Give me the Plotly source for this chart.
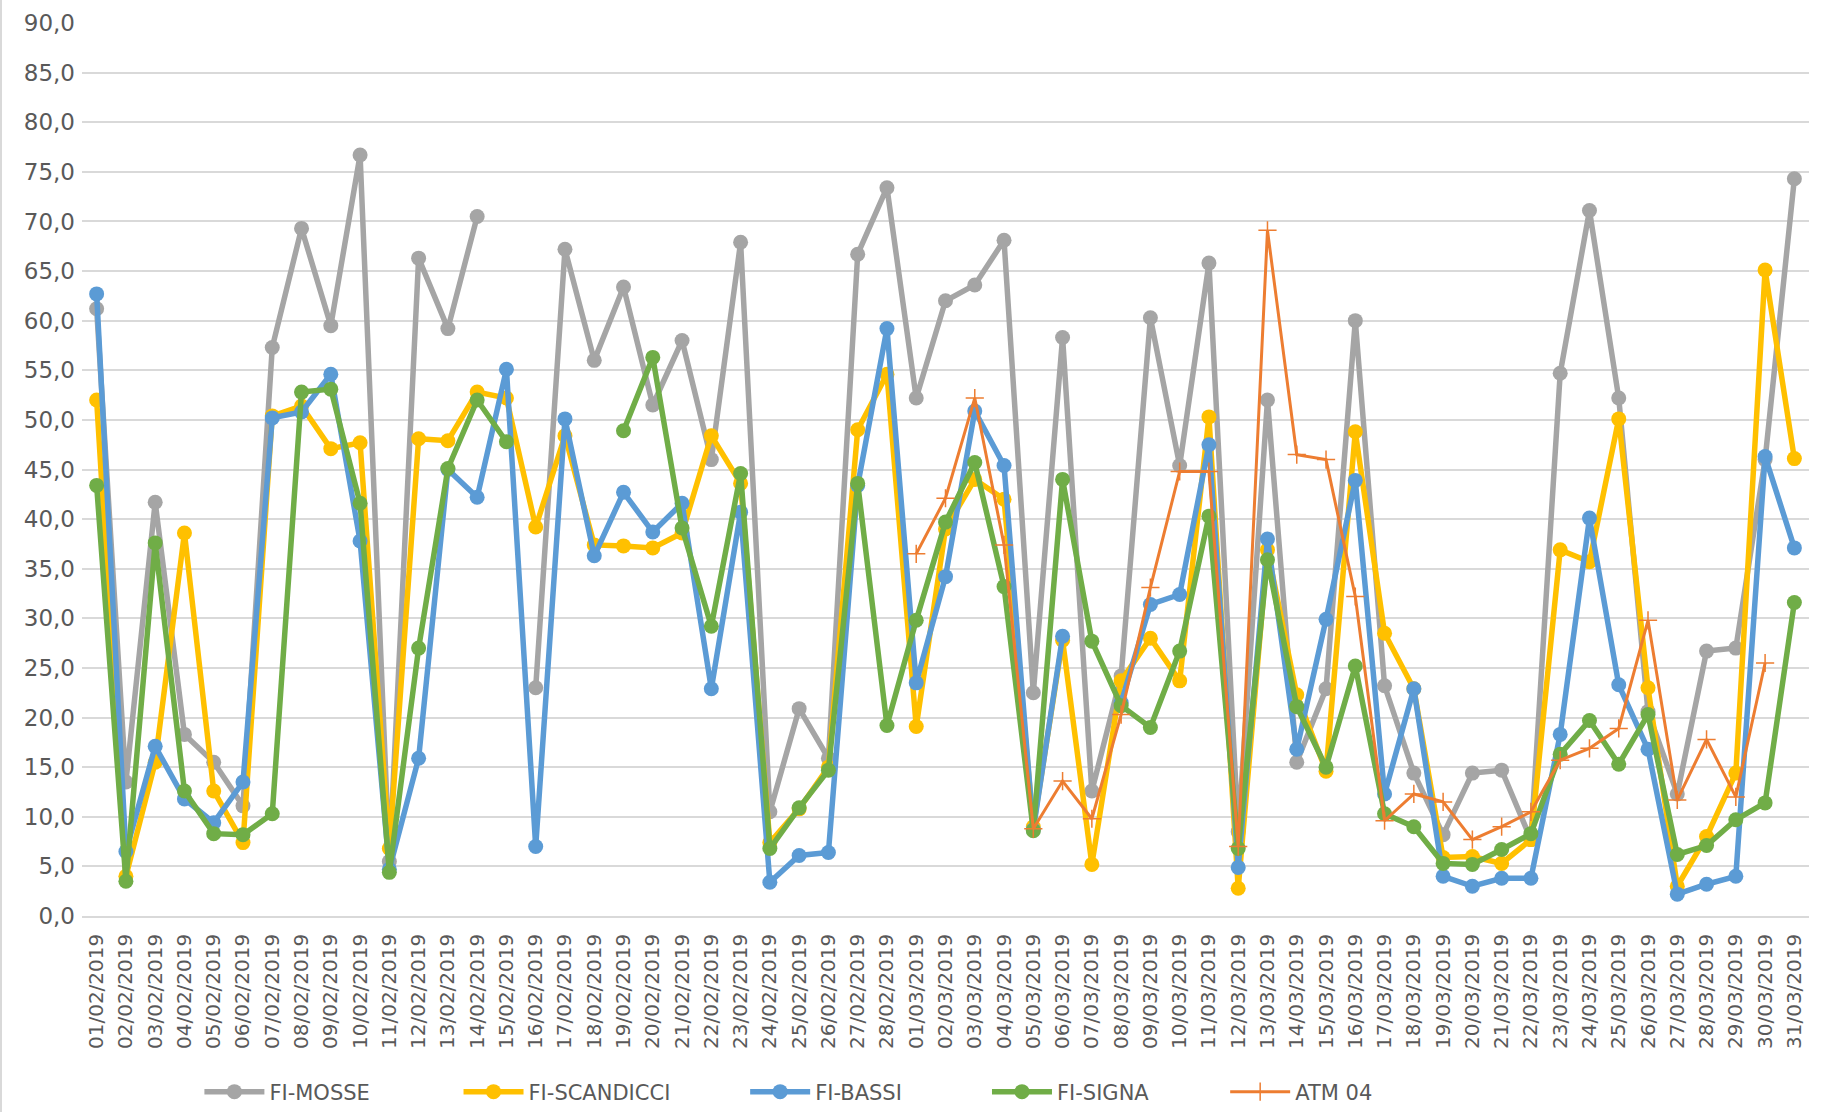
import plotly.graph_objects as go

# Daily values, February-March 2019
dates = [f"{d:02d}/02/2019" for d in range(1, 29)] + [f"{d:02d}/03/2019" for d in range(1, 32)]

fi_mosse = [61.2, 13.5, 41.7, 18.3, 15.5, 11.1, 57.3, 69.3, 59.5, 76.7,
            5.5, 66.3, 59.2, 70.5, None, 23.0, 67.2, 56.0, 63.4, 51.5,
            58.0, 46.0, 67.9, 10.5, 20.9, 15.9, 66.7, 73.4,
            52.2, 62.0, 63.6, 68.1, 22.5, 58.3, 12.6, 24.2, 60.3, 45.4,
            65.8, 8.5, 52.0, 15.5, 22.9, 60.0, 23.2, 14.4, 8.2, 14.4,
            14.7, 7.7, 54.7, 71.1, 52.2, 20.6, 12.3, 26.7, 27.0, 46.0, 74.3]

fi_scandicci = [52.0, 4.0, 15.5, 38.6, 12.6, 7.4, 50.4, 51.4, 47.1, 47.7,
                6.8, 48.1, 47.9, 52.8, 52.2, 39.2, 48.4, 37.4, 37.3, 37.1,
                38.6, 48.4, 43.6, 7.4, 10.8, 15.0, 49.0, 54.6,
                19.1, 39.0, 44.0, 42.0, 9.0, 27.8, 5.2, 23.7, 28.0, 23.7,
                50.3, 2.8, 36.9, 22.3, 14.6, 48.8, 28.5, 22.9, 5.9, 6.0,
                5.3, 7.7, 36.9, 35.7, 50.1, 23.0, 3.0, 8.0, 14.4, 65.1, 46.1]

fi_bassi = [62.7, 6.5, 17.1, 11.8, 9.4, 13.5, 50.2, 50.8, 54.6, 37.8,
            4.7, 15.9, 45.0, 42.2, 55.1, 7.0, 50.1, 36.3, 42.7, 38.7,
            41.6, 22.9, 40.7, 3.4, 6.1, 6.4, 43.4, 59.2,
            23.5, 34.2, 50.9, 45.4, 8.7, 28.2, None, 21.5, 31.4, 32.4,
            47.5, 4.9, 38.0, 16.8, 29.9, 43.9, 12.3, 22.9, 4.0, 3.0,
            3.8, 3.8, 18.3, 40.1, 23.3, 16.8, 2.2, 3.2, 4.0, 46.3, 37.1]

fi_signa = [43.4, 3.5, 37.6, 12.6, 8.3, 8.2, 10.3, 52.8, 53.1, 41.6,
            4.4, 27.0, 45.1, 52.0, 47.8, None, None, None, 48.9, 56.3,
            39.1, 29.2, 44.6, 6.8, 10.9, 14.7, 43.6, 19.2,
            29.8, 39.7, 45.7, 33.2, 8.6, 44.0, 27.7, 21.2, 19.0, 26.7,
            40.3, 6.8, 35.9, 21.1, 15.0, 25.2, 10.3, 9.0, 5.3, 5.2,
            6.7, 8.3, 16.3, 19.7, 15.3, 20.3, 6.2, 7.1, 9.7, 11.4, 31.6]

atm_04 = [None] * 28 + [
          36.5, 42.1, 52.2, 37.4, 8.8, 13.6, 9.8, 20.3, 33.1, 44.8,
          44.8, 7.0, 69.1, 46.5, 46.0, 32.2, 9.6, 12.3, 11.5, 7.7,
          9.0, 10.5, 15.7, 16.9, 18.9, 29.8, 11.7, 17.8, 12.0, 25.5, None]

series = [
    ("FI-MOSSE", fi_mosse, "#A5A5A5"),
    ("FI-SCANDICCI", fi_scandicci, "#FFC000"),
    ("FI-BASSI", fi_bassi, "#5B9BD5"),
    ("FI-SIGNA", fi_signa, "#70AD47"),
]

FONT = "DejaVu Sans"
TEXT = "#595959"
GRID = "#D9D9D9"

# container-x position (left edge) of each legend entry
legend_x = [0.1095, 0.2518, 0.4092, 0.5420, 0.6728]
legend_names = ["legend", "legend2", "legend3", "legend4", "legend5"]

fig = go.Figure()
for i, (name, vals, color) in enumerate(series):
    fig.add_trace(go.Scatter(
        x=dates, y=vals, name=name, mode="lines+markers",
        line=dict(color=color, width=5.5),
        marker=dict(color=color, size=15, symbol="circle"),
        connectgaps=False, legend=legend_names[i],
    ))

fig.add_trace(go.Scatter(
    x=dates, y=atm_04, name="ATM 04", mode="lines+markers",
    line=dict(color="#ED7D31", width=3),
    marker=dict(symbol="cross-thin", size=13, line=dict(color="#ED7D31", width=1.5)),
    connectgaps=False, legend="legend5",
))

layout_legends = {}
for name, lx in zip(legend_names, legend_x):
    layout_legends[name] = dict(
        x=lx, y=0.018, xref="container", yref="container",
        xanchor="left", yanchor="middle",
        orientation="h", bgcolor="rgba(0,0,0,0)", itemwidth=60,
        font=dict(family=FONT, size=21, color=TEXT),
    )

fig.update_layout(
    width=1821, height=1112,
    margin=dict(l=82, r=12, t=23, b=196, autoexpand=False),
    paper_bgcolor="white", plot_bgcolor="white",
    separators=",.",
    showlegend=True,
    **layout_legends,
    xaxis=dict(
        type="category", tickangle=-90, showgrid=False,
        showline=True, linecolor=GRID, linewidth=1.5,
        ticks="", ticklabelstandoff=8, automargin=False,
        tickfont=dict(family=FONT, size=20, color=TEXT),
        range=[-0.5, len(dates) - 0.5],
    ),
    yaxis=dict(
        range=[0, 90], dtick=5, tickformat=".1f",
        showgrid=True, gridcolor=GRID, gridwidth=2,
        zeroline=True, zerolinecolor=GRID, zerolinewidth=2,
        ticks="", ticklabelstandoff=6, automargin=False,
        tickfont=dict(family=FONT, size=23, color=TEXT),
    ),
    shapes=[dict(type="line", xref="paper", yref="paper",
                 x0=-0.0469, x1=-0.0469, y0=-0.25, y1=1.05,
                 line=dict(color=GRID, width=2))],
)

fig.write_html("out.html")
